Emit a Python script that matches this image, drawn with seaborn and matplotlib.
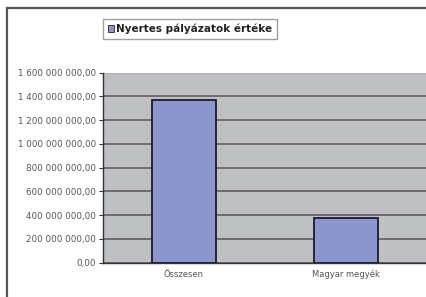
import matplotlib
matplotlib.use("Agg")
import matplotlib.pyplot as plt
from matplotlib.patches import Patch, Rectangle
from matplotlib.ticker import FuncFormatter
import seaborn as sns
import pandas as pd

# data
categories = ["Összesen", "Magyar megyék"]
values = [1_371_000_000, 377_000_000]
series_name = "Nyertes pályázatok értéke"
y_ticks = [0, 200e6, 400e6, 600e6, 800e6, 1000e6, 1200e6, 1400e6, 1600e6]

bar_color = "#8c96cc"
plot_bg = "#bfc0c4"
grid_color = "#5e5e5e"

sns.set_style("white")
plt.rcParams["font.family"] = ["DejaVu Sans"]

df = pd.DataFrame({"cat": categories, "val": values})

W, H = 426, 297
fig = plt.figure(figsize=(W / 100, H / 100), dpi=100)
fig.patch.set_facecolor("white")

ax = fig.add_axes([103 / W, (H - 262.7) / H, (427 - 103) / W, 190 / H])
ax.set_facecolor(plot_bg)

sns.barplot(data=df, x="cat", y="val", color=bar_color, edgecolor="#1a1a2e",
            linewidth=1.3, width=0.4, saturation=1, ax=ax, zorder=3)

ax.set_ylim(0, 1.6e9)
ax.set_yticks(y_ticks)


def hu_fmt(v, pos):
    if v == 0:
        return "0,00"
    s = f"{int(round(v)):,}".replace(",", " ")
    return s + ",00"


ax.yaxis.set_major_formatter(FuncFormatter(hu_fmt))
ax.yaxis.grid(True, color=grid_color, linewidth=1.2, zorder=1)
ax.set_axisbelow(True)
# top gridline is lighter in the reference
ax.get_ygridlines()[-1].set_color("#a8a8ac")

for side in ["top", "right"]:
    ax.spines[side].set_visible(False)
ax.spines["left"].set_color("#333333")
ax.spines["bottom"].set_color("#333333")
ax.spines["left"].set_linewidth(1.0)
ax.spines["bottom"].set_linewidth(1.0)

ax.tick_params(axis="y", direction="out", length=3, width=0.8, color="#333333",
               labelsize=6.3, labelcolor="#555555", pad=2, left=True)
ax.tick_params(axis="x", length=0, labelsize=6.0, labelcolor="#555555", pad=5)
ax.set_xlabel("")
ax.set_ylabel("")

# legend
handle = Patch(facecolor=bar_color, edgecolor="#222222", linewidth=0.6)
leg = fig.legend([handle], [series_name], loc="upper left",
                 bbox_to_anchor=(103 / W, 1 - 19 / H), bbox_transform=fig.transFigure,
                 fancybox=False, frameon=True, fontsize=7.5, handlelength=0.6,
                 handleheight=0.6, handletextpad=0.2, borderpad=0.45,
                 borderaxespad=0)
leg.get_frame().set_edgecolor("#888888")
leg.get_frame().set_linewidth(1.0)
for t in leg.get_texts():
    t.set_fontweight("bold")
    t.set_color("#222222")

# outer frame (top and left visible, rest clipped)
fig.add_artist(Rectangle((7 / W, -0.2), 1.5, 1.2 - 8 / H, fill=False,
                         edgecolor="#555555", linewidth=1.6,
                         transform=fig.transFigure))

fig.savefig("out.png", dpi=100)
